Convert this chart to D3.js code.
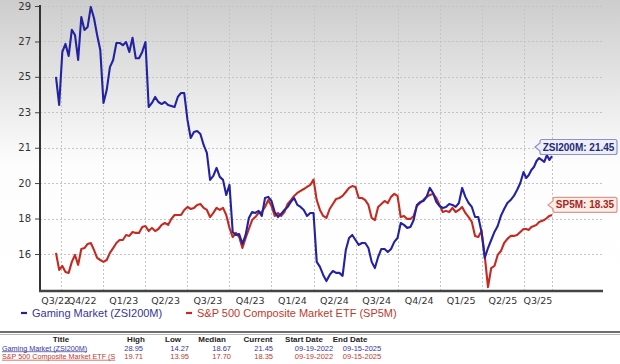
<!DOCTYPE html>
<html><head><meta charset="utf-8">
<script src="https://cdn.jsdelivr.net/npm/d3@7"></script>
<style>body{margin:0;background:#fff}svg{display:block}</style>
</head><body><svg id="c" width="620" height="364"></svg>
<script>
// ---------- data ----------
const startDate = "2022-09-19";
const endDate = "2025-09-15";
// weekly closes
const gaming = [
25.20,23.70,26.54,26.97,26.32,27.72,27.45,26.11,28.41,27.72,27.88,28.95,28.36,27.45,26.64,
23.81,24.50,25.73,26.11,27.02,27.02,26.90,27.07,26.54,27.30,26.20,26.20,26.54,27.07,
23.59,23.81,24.13,23.86,23.75,23.86,23.70,23.65,23.59,24.13,24.34,24.34,22.90,
21.93,22.25,22.31,22.15,21.56,21.13,19.69,19.90,20.33,19.85,19.69,18.88,19.42,
16.90,16.74,16.79,16.26,16.74,17.65,17.97,17.92,18.03,17.76,18.72,18.78,18.56,
17.97,17.70,17.87,18.08,18.24,18.51,18.72,18.35,18.24,18.08,17.76,17.92,17.92,
15.30,15.03,14.60,14.27,14.60,14.81,14.71,14.71,14.55,15.94,16.58,16.74,16.47,
16.21,16.31,16.31,16.04,15.30,14.97,15.56,15.99,15.99,15.83,15.99,16.37,16.58,
17.38,17.28,17.12,17.17,17.54,18.35,18.51,18.56,18.78,19.26,18.99,18.51,18.29,
18.19,18.24,18.40,18.35,18.24,18.45,19.26,18.78,18.45,18.24,17.70,17.70,16.90,
15.51,16.04,16.47,16.90,17.22,17.76,18.13,18.45,18.61,18.83,19.15,19.52,20.11,
19.79,19.95,20.22,20.38,20.70,20.86,20.76,20.65,21.02,20.76,20.97];
const sp500 = [
15.78,14.87,15.08,14.76,14.71,15.30,15.67,15.14,15.99,16.04,16.26,16.31,15.94,15.51,15.40,
15.30,15.40,15.78,16.04,16.31,16.47,16.47,16.74,16.69,16.90,16.85,16.85,17.17,17.22,
16.95,17.12,16.95,17.06,17.28,17.38,17.28,17.60,17.81,17.81,17.81,18.08,18.24,
18.13,18.19,18.35,18.40,18.19,18.08,17.70,17.92,18.19,18.08,18.19,17.81,17.12,
16.63,16.85,16.63,16.04,16.58,17.06,17.54,17.70,17.92,17.97,18.24,18.61,18.29,
17.76,17.92,17.76,17.97,18.40,18.61,18.83,18.99,19.10,19.20,19.31,19.42,19.71,
18.61,18.08,17.76,17.65,18.13,18.40,18.67,18.72,18.83,19.04,19.26,19.36,19.31,
18.72,18.72,18.61,18.35,17.65,17.54,18.24,18.40,18.56,18.45,18.78,18.94,18.83,
17.70,17.76,17.60,17.60,17.76,18.29,18.45,18.61,18.78,18.88,18.94,18.72,18.35,
17.97,18.03,17.97,18.19,17.97,18.08,18.24,17.92,17.70,17.44,16.69,16.63,16.95,
15.62,13.95,14.97,15.08,15.67,15.88,16.31,16.53,16.69,16.69,16.74,16.90,17.06,
17.06,17.01,17.17,17.22,17.28,17.44,17.49,17.54,17.65,17.76,17.81];
const seriesNames = ["Gaming Market (ZSI200M)", "S&P 500 Composite Market ETF (SP5M)"];
const seriesShort = ["ZSI200M", "SP5M"];
const currentValues = [21.45, 18.35];
const quarterLabels = ["Q3/22","Q4/22","Q1/23","Q2/23","Q3/23","Q4/23","Q1/24","Q2/24","Q3/24","Q4/24","Q1/25","Q2/25","Q3/25"];
const quarterStarts = ["2022-07-01","2022-10-01","2023-01-01","2023-04-01","2023-07-01","2023-10-01","2024-01-01","2024-04-01","2024-07-01","2024-10-01","2025-01-01","2025-04-01","2025-07-01","2025-10-01"];
const yTickValues = [15.72,17.62,19.52,21.41,23.31,25.21,27.10,29.00];
const yTickLabels = ["16","18","20","21","23","25","27","29"];
const tableHeaders = ["Title","High","Low","Median","Current","Start Date","End Date"];
const tableRows = [
  ["Gaming Market (ZSI200M)","28.95","14.27","18.67","21.45","09-19-2022","09-15-2025"],
  ["S&P 500 Composite Market ETF (SP5M)","19.71","13.95","17.70","18.35","09-19-2022","09-15-2025"]
];

// ---------- setup ----------
const parse = d3.timeParse("%Y-%m-%d");
const t0 = parse(startDate), t1 = parse(endDate);
const dates = d3.timeMonday.range(t0, d3.timeDay.offset(t1, 1));
const svg = d3.select("#c");
const colors = ["#2222a2", "#c42a22"];
const textColors = ["#36369a", "#c0392b"];

const plotL = 40, plotR = 603, plotT = 5, plotB = 291;
const x = d3.scaleTime()
  .domain([t0, parse("2023-01-01"), parse("2025-07-01"), t1])
  .range([56, 103, 524, 552]);
const y = d3.scaleLinear().domain([13.74, 29.0]).range([plotB, 6]);

// background gradient
const defs = svg.append("defs");
const g = defs.append("linearGradient").attr("id","bg").attr("x1",0).attr("y1",0).attr("x2",0).attr("y2",1);
g.append("stop").attr("offset","0%").attr("stop-color","#cdcdcd");
g.append("stop").attr("offset","55%").attr("stop-color","#fdfdfd");
g.append("stop").attr("offset","100%").attr("stop-color","#ffffff");
svg.append("rect").attr("width",620).attr("height",300).attr("fill","url(#bg)");

// grid
const grid = svg.append("g").attr("stroke","#c4c4c4").attr("stroke-width",1).attr("stroke-dasharray","2,2");
grid.selectAll("line.h").data(yTickValues).join("line")
  .attr("x1",plotL).attr("x2",plotR).attr("y1",d=>Math.round(y(d))+0.5).attr("y2",d=>Math.round(y(d))+0.5);
const vDates = quarterStarts.map(parse).filter(d => d > t0 && d <= t1).concat([t1]);
grid.selectAll("line.v").data(vDates).join("line")
  .attr("x1",d=>Math.round(x(d))+0.5).attr("x2",d=>Math.round(x(d))+0.5).attr("y1",plotT).attr("y2",plotB);

// y axis
const yAxis = d3.axisLeft(y).tickValues(yTickValues).tickSize(5).tickPadding(4)
  .tickFormat((d,i)=>yTickLabels[i]);
const ya = svg.append("g").attr("transform",`translate(${plotL},0)`).call(yAxis);
ya.select(".domain").remove();
ya.selectAll("line").attr("stroke","#444");
ya.selectAll("text").attr("font-family","DejaVu Sans").attr("font-size","10px").attr("fill","#333");

// x labels (centred in each quarter band)
const xl = svg.append("g");
quarterLabels.forEach((lab,i)=>{
  const a = d3.max([parse(quarterStarts[i]), t0]);
  const b = d3.min([parse(quarterStarts[i+1]), t1]);
  const cx = (x(a)+x(b))/2;
  xl.append("text").attr("x", i===0 ? cx-3 : cx).attr("y",304).attr("text-anchor","middle")
    .attr("font-family","DejaVu Sans").attr("font-size","9.5px").attr("fill","#333").text(lab);
});

// lines
[gaming, sp500].slice().reverse().forEach((arr,k)=>{
  const idx = 1-k;
  const line = d3.line().x((d,i)=>x(dates[i])).y(d=>y(d));
  svg.append("path").datum(arr).attr("d",line).attr("fill","none")
    .attr("stroke",colors[idx]).attr("stroke-width",2.1).attr("stroke-linejoin","round");
});

// axis lines
svg.append("line").attr("x1",plotL).attr("x2",plotL).attr("y1",plotT).attr("y2",plotB+1).attr("stroke","#333").attr("stroke-width",2);
svg.append("line").attr("x1",plotL-1).attr("x2",plotR).attr("y1",plotB).attr("y2",plotB).attr("stroke","#444").attr("stroke-width",2.5);

// end labels
const labFill = ["#eceef9","#fbece7"], labStroke = ["#8c92c4","#d79a8c"], labText = ["#1f2a78","#a8261a"];
const labTip = [535, 548];
currentValues.forEach((v,i)=>{
  const yc = y(v), tx = labTip[i], bx = tx+5, bw = 617-bx, h = 15;
  const p = `M${tx},${yc} L${bx},${yc-4} L${bx},${yc-h/2+2} Q${bx},${yc-h/2} ${bx+2},${yc-h/2} L${bx+bw-2},${yc-h/2} Q${bx+bw},${yc-h/2} ${bx+bw},${yc-h/2+2} L${bx+bw},${yc+h/2-2} Q${bx+bw},${yc+h/2} ${bx+bw-2},${yc+h/2} L${bx+2},${yc+h/2} Q${bx},${yc+h/2} ${bx},${yc+h/2-2} L${bx},${yc+4} Z`;
  svg.append("path").attr("d",p).attr("fill",labFill[i]).attr("stroke",labStroke[i]).attr("stroke-width",1.2);
  svg.append("text").attr("x",bx+bw/2).attr("y",yc+3.5).attr("text-anchor","middle")
    .attr("font-family","Liberation Sans").attr("font-weight","bold").attr("font-size","10px")
    .attr("fill",labText[i]).text(`${seriesShort[i]}: ${v.toFixed(2)}`);
});

// legend
const legX = [21, 186];
seriesNames.forEach((n,i)=>{
  svg.append("line").attr("x1",legX[i]).attr("x2",legX[i]+6).attr("y1",313).attr("y2",313)
    .attr("stroke",colors[i]).attr("stroke-width",2.2);
  svg.append("text").attr("x",legX[i]+11).attr("y",317).attr("font-family","Liberation Sans")
    .attr("font-size","11px").attr("fill",textColors[i]).text(n);
});

// table
svg.append("line").attr("x1",0).attr("x2",620).attr("y1",332).attr("y2",332).attr("stroke","#6e6e6e").attr("stroke-width",2);
svg.append("line").attr("x1",0).attr("x2",620).attr("y1",334.5).attr("y2",334.5).attr("stroke","#b5b5b5").attr("stroke-width",1);
const headX = [61,136,173,212,258,304,350];
tableHeaders.forEach((h,i)=>{
  svg.append("text").attr("x",headX[i]).attr("y",341.5).attr("text-anchor","middle")
    .attr("font-family","Liberation Sans Narrow, Liberation Sans").attr("font-weight","bold")
    .attr("font-size","8px").attr("fill","#222").text(h);
});
const colX = [2,143,189,231,273,314,362];
const colAnchor = ["start","end","end","end","end","middle","middle"];
const rowY = [350.5, 359];
const titleWidth = 116;
tableRows.forEach((r,ri)=>{
  r.forEach((c,ci)=>{
    const t = svg.append("text").attr("x",colX[ci]).attr("y",rowY[ri]).attr("text-anchor",colAnchor[ci])
      .attr("font-family","Liberation Sans Narrow, Liberation Sans").attr("font-size", ci===0 ? "7.2px" : "7.5px")
      .attr("fill",textColors[ri]).text(c);
    if (ci===0) {
      // the title column cuts long names, as in the source table
      let s = c;
      while (t.node().getComputedTextLength() > titleWidth && s.length > 1) { s = s.slice(0,-1); t.text(s); }
      const w = t.node().getComputedTextLength();
      svg.append("line").attr("x1",colX[0]).attr("x2",colX[0]+w).attr("y1",rowY[ri]+1.2).attr("y2",rowY[ri]+1.2)
        .attr("stroke",textColors[ri]).attr("stroke-width",0.7);
    }
  });
});
</script></body></html>
